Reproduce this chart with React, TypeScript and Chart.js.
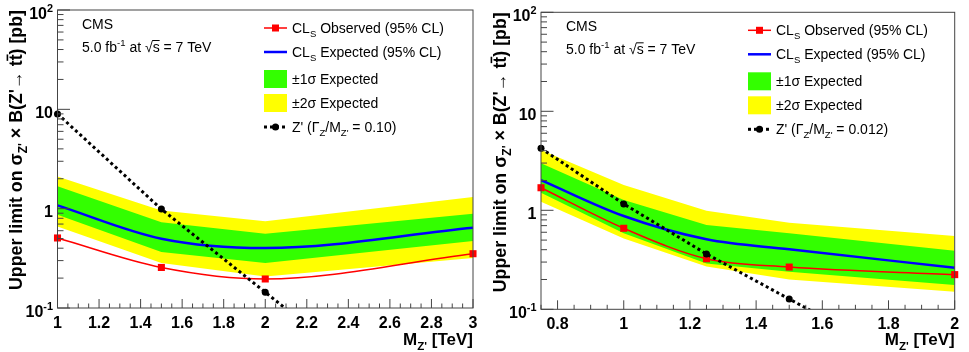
import React, { useEffect, useRef } from 'react';
import { Chart, registerables } from 'chart.js';

Chart.register(...registerables);

const FONT = '"Liberation Sans", Arial, Helvetica, sans-serif';

// ---------- Left panel: Z' (Γ/M = 0.10) ----------
const leftMass = [1, 1.5, 2, 3];
const leftObserved = [0.507, 0.256, 0.196, 0.352];
const leftExpected = [1.08, 0.499, 0.402, 0.644];
const left1SigUp = [1.68, 0.728, 0.56, 0.89];
const left1SigDown = [0.87, 0.366, 0.284, 0.473];
const left2SigUp = [2.11, 0.96, 0.745, 1.31];
const left2SigDown = [0.66, 0.284, 0.208, 0.319];
const leftZpMass = [1, 1.5, 2, 2.5];
const leftZpXsec = [9.0, 0.99, 0.144, 0.021];
const leftXTicks = [1, 1.2, 1.4, 1.6, 1.8, 2, 2.2, 2.4, 2.6, 2.8, 3];
const leftXTickLabels = ['1', '1.2', '1.4', '1.6', '1.8', '2', '2.2', '2.4', '2.6', '2.8', '3'];

// ---------- Right panel: Z' (Γ/M = 0.012) ----------
const rightMass = [0.75, 1, 1.25, 1.5, 2];
const rightObserved = [1.69, 0.658, 0.324, 0.267, 0.224];
const rightExpected = [2.02, 0.876, 0.51, 0.404, 0.263];
const right1SigUp = [2.98, 1.27, 0.71, 0.586, 0.39];
const right1SigDown = [1.5, 0.586, 0.29, 0.24, 0.176];
const right2SigUp = [4.06, 1.8, 0.99, 0.75, 0.55];
const right2SigDown = [1.22, 0.52, 0.27, 0.2, 0.15];
const rightZpMass = [0.75, 1, 1.25, 1.5, 1.75];
const rightZpXsec = [4.23, 1.16, 0.362, 0.127, 0.045];
const rightXTicks = [0.8, 1, 1.2, 1.4, 1.6, 1.8, 2];
const rightXTickLabels = ['0.8', '1', '1.2', '1.4', '1.6', '1.8', '2'];

// ---------- shared y axis ----------
const yTicks = [0.1, 1, 10, 100];
type Seg = { t: string; s?: 'sub' | 'sup'; bar?: boolean };
const yTickLabels: Seg[][] = [
  [{ t: '10' }, { t: '-1', s: 'sup' }],
  [{ t: '1' }],
  [{ t: '10' }],
  [{ t: '10' }, { t: '2', s: 'sup' }],
];

const yTitle: Seg[] = [
  { t: 'Upper limit on ' },
  { t: 'σ' },
  { t: "Z'", s: 'sub' },
  { t: " × B(Z'→ t" },
  { t: 't', bar: true },
  { t: ') [pb]' },
];
const xTitle: Seg[] = [{ t: 'M' }, { t: "Z'", s: 'sub' }, { t: ' [TeV]' }];
const cmsLine1: Seg[] = [{ t: 'CMS' }];
const cmsLine2: Seg[] = [
  { t: '5.0 fb' },
  { t: '-1', s: 'sup' },
  { t: ' at ' },
  { t: '√' },
  { t: 's', bar: true },
  { t: ' = 7 TeV' },
];
const legObserved: Seg[] = [{ t: 'CL' }, { t: 'S', s: 'sub' }, { t: ' Observed (95% CL)' }];
const legExpected: Seg[] = [{ t: 'CL' }, { t: 'S', s: 'sub' }, { t: ' Expected (95% CL)' }];
const leg1Sig: Seg[] = [{ t: '±1σ Expected' }];
const leg2Sig: Seg[] = [{ t: '±2σ Expected' }];
const legZpLeft: Seg[] = [{ t: "Z' (Γ" }, { t: 'Z', s: 'sub' }, { t: '/M' }, { t: "Z'", s: 'sub' }, { t: ' = 0.10)' }];
const legZpRight: Seg[] = [{ t: "Z' (Γ" }, { t: 'Z', s: 'sub' }, { t: '/M' }, { t: "Z'", s: 'sub' }, { t: ' = 0.012)' }];

const RED = '#ff0000';
const BLUE = '#0000ff';
const GREEN = '#33ff00';
const YELLOW = '#ffff00';

interface Panel {
  mass: number[];
  obs: number[];
  exp: number[];
  s1u: number[];
  s1d: number[];
  s2u: number[];
  s2d: number[];
  zpMass: number[];
  zpXsec: number[];
  xMin: number;
  xMax: number;
  xTicks: number[];
  xTickLabels: string[];
  zpLegend: Seg[];
  padding: { left: number; right: number; top: number; bottom: number };
  yLabelGap: number;
}

function segFont(seg: Seg, size: number, weight: string) {
  const sz = seg.s ? size * 0.68 : size;
  return `${weight} ${sz}px ${FONT}`;
}

function drawRich(
  ctx: CanvasRenderingContext2D,
  segs: Seg[],
  x: number,
  y: number,
  size: number,
  weight: string,
  align: 'left' | 'right' | 'center',
  color = '#000'
) {
  let w = 0;
  const widths: number[] = [];
  for (const s of segs) {
    ctx.font = segFont(s, size, weight);
    const mw = ctx.measureText(s.t).width;
    widths.push(mw);
    w += mw;
  }
  let cx = align === 'left' ? x : align === 'right' ? x - w : x - w / 2;
  ctx.fillStyle = color;
  ctx.strokeStyle = color;
  ctx.textAlign = 'left';
  ctx.textBaseline = 'alphabetic';
  segs.forEach((s, i) => {
    ctx.font = segFont(s, size, weight);
    const dy = s.s === 'sub' ? size * 0.28 : s.s === 'sup' ? -size * 0.42 : 0;
    ctx.fillText(s.t, cx, y + dy);
    if (s.bar) {
      ctx.save();
      ctx.lineWidth = weight === 'bold' ? 1.6 : 1;
      ctx.setLineDash([]);
      ctx.beginPath();
      ctx.moveTo(cx - 0.5, y - size * 0.82);
      ctx.lineTo(cx + widths[i], y - size * 0.82);
      ctx.stroke();
      ctx.restore();
    }
    cx += widths[i];
  });
}

function overlayPlugin(p: Panel) {
  return {
    id: 'rootOverlay',
    afterDraw(chart: any) {
      const ctx: CanvasRenderingContext2D = chart.ctx;
      const a = chart.chartArea;
      const xs = chart.scales.x;
      const ys = chart.scales.y;
      ctx.save();
      ctx.setLineDash([]);
      // frame
      ctx.strokeStyle = '#444';
      ctx.lineWidth = 1;
      ctx.strokeRect(a.left, a.top, a.right - a.left, a.bottom - a.top);

      // x ticks (inward)
      ctx.beginPath();
      const i0 = Math.ceil(p.xMin / 0.05 - 1e-6);
      const i1 = Math.floor(p.xMax / 0.05 + 1e-6);
      for (let i = i0; i <= i1; i++) {
        const v = i * 0.05;
        const major = p.xTicks.some((t) => Math.abs(t - v) < 1e-6);
        const px = xs.getPixelForValue(v);
        ctx.moveTo(px, a.bottom);
        ctx.lineTo(px, a.bottom - (major ? 9 : 4.5));
      }
      // y ticks (inward)
      for (const d of [0.1, 1, 10]) {
        for (let k = 1; k <= 9; k++) {
          const v = d * k;
          const py = ys.getPixelForValue(v);
          ctx.moveTo(a.left, py);
          ctx.lineTo(a.left + (k === 1 ? 12.5 : 6), py);
        }
      }
      const pTop = ys.getPixelForValue(100);
      ctx.moveTo(a.left, pTop);
      ctx.lineTo(a.left + 12.5, pTop);
      ctx.stroke();

      // x tick labels
      p.xTicks.forEach((v, i) => {
        drawRich(ctx, [{ t: p.xTickLabels[i] }], xs.getPixelForValue(v), a.bottom + 20, 16, 'bold', 'center');
      });
      // y tick labels
      yTicks.forEach((v, i) => {
        drawRich(ctx, yTickLabels[i], a.left - p.yLabelGap, ys.getPixelForValue(v) + 8.5, 16, 'bold', 'right');
      });

      // x title
      drawRich(ctx, xTitle, a.right, 345, 17, 'bold', 'right');

      // y title (rotated, right-aligned to top of axis)
      ctx.save();
      ctx.translate(22, a.top);
      ctx.rotate(-Math.PI / 2);
      drawRich(ctx, yTitle, 0, 0, 17.8, 'bold', 'right');
      ctx.restore();

      // CMS label
      drawRich(ctx, cmsLine1, 82, a.top + 19, 14, 'normal', 'left');
      drawRich(ctx, cmsLine2, 82, a.top + 42, 14, 'normal', 'left');

      // legend
      const lx0 = 264;
      const lx1 = 287;
      const lt = 292;
      const rows = [18, 42, 69, 93, 117].map((r) => a.top + r);
      // observed
      ctx.strokeStyle = RED;
      ctx.lineWidth = 1.5;
      ctx.beginPath();
      ctx.moveTo(lx0, rows[0]);
      ctx.lineTo(lx1, rows[0]);
      ctx.stroke();
      ctx.fillStyle = RED;
      ctx.fillRect((lx0 + lx1) / 2 - 3.5, rows[0] - 3.5, 7, 7);
      drawRich(ctx, legObserved, lt, rows[0] + 5, 14, 'normal', 'left');
      // expected
      ctx.strokeStyle = BLUE;
      ctx.lineWidth = 2.5;
      ctx.beginPath();
      ctx.moveTo(lx0, rows[1]);
      ctx.lineTo(lx1, rows[1]);
      ctx.stroke();
      drawRich(ctx, legExpected, lt, rows[1] + 5, 14, 'normal', 'left');
      // 1 sigma
      ctx.fillStyle = GREEN;
      ctx.fillRect(lx0, rows[2] - 9, lx1 - lx0, 18);
      drawRich(ctx, leg1Sig, lt, rows[2] + 5, 14, 'normal', 'left');
      // 2 sigma
      ctx.fillStyle = YELLOW;
      ctx.fillRect(lx0, rows[3] - 9, lx1 - lx0, 18);
      drawRich(ctx, leg2Sig, lt, rows[3] + 5, 14, 'normal', 'left');
      // Z'
      ctx.strokeStyle = '#000';
      ctx.lineWidth = 3;
      ctx.setLineDash([3, 3]);
      ctx.beginPath();
      ctx.moveTo(lx0, rows[4]);
      ctx.lineTo(lx1, rows[4]);
      ctx.stroke();
      ctx.setLineDash([]);
      ctx.fillStyle = '#000';
      ctx.beginPath();
      ctx.arc((lx0 + lx1) / 2, rows[4], 3.5, 0, Math.PI * 2);
      ctx.fill();
      drawRich(ctx, p.zpLegend, lt, rows[4] + 5, 14, 'normal', 'left');

      ctx.restore();
    },
  };
}

function pts(xs: number[], ys: number[]) {
  return xs.map((x, i) => ({ x, y: ys[i] }));
}

function makeConfig(p: Panel): any {
  return {
    type: 'line',
    data: {
      datasets: [
        {
          label: "Z'",
          data: pts(p.zpMass, p.zpXsec),
          borderColor: '#000',
          borderWidth: 3,
          borderDash: [3, 3],
          pointRadius: 3.5,
          pointBackgroundColor: '#000',
          pointBorderColor: '#000',
          pointBorderWidth: 0,
          tension: 0,
          fill: false,
          clip: { left: 8, right: 8, top: 8, bottom: 0 },
        },
        {
          label: 'Observed',
          data: pts(p.mass, p.obs),
          borderColor: RED,
          borderWidth: 1.5,
          pointStyle: 'rect',
          pointRadius: 5,
          pointBackgroundColor: RED,
          pointBorderColor: RED,
          pointBorderWidth: 0,
          cubicInterpolationMode: 'monotone',
          fill: false,
          clip: false,
        },
        {
          label: 'Expected',
          data: pts(p.mass, p.exp),
          borderColor: BLUE,
          borderWidth: 2.5,
          pointRadius: 0,
          cubicInterpolationMode: 'monotone',
          fill: false,
        },
        {
          label: '1s up',
          data: pts(p.mass, p.s1u),
          borderColor: 'rgba(0,0,0,0)',
          borderWidth: 0,
          pointRadius: 0,
          backgroundColor: GREEN,
          tension: 0,
          fill: '+1',
        },
        {
          label: '1s down',
          data: pts(p.mass, p.s1d),
          borderColor: 'rgba(0,0,0,0)',
          borderWidth: 0,
          pointRadius: 0,
          tension: 0,
          fill: false,
        },
        {
          label: '2s up',
          data: pts(p.mass, p.s2u),
          borderColor: 'rgba(0,0,0,0)',
          borderWidth: 0,
          pointRadius: 0,
          backgroundColor: YELLOW,
          tension: 0,
          fill: '+1',
        },
        {
          label: '2s down',
          data: pts(p.mass, p.s2d),
          borderColor: 'rgba(0,0,0,0)',
          borderWidth: 0,
          pointRadius: 0,
          tension: 0,
          fill: false,
        },
      ],
    },
    options: {
      animation: false,
      responsive: false,
      devicePixelRatio: 1,
      events: [],
      layout: { padding: p.padding },
      plugins: {
        legend: { display: false },
        tooltip: { enabled: false },
        title: { display: false },
      },
      scales: {
        x: { type: 'linear', min: p.xMin, max: p.xMax, display: false },
        y: { type: 'logarithmic', min: 0.1, max: 100, display: false },
      },
    },
    plugins: [overlayPlugin(p)],
  };
}

const leftPanel: Panel = {
  mass: leftMass,
  obs: leftObserved,
  exp: leftExpected,
  s1u: left1SigUp,
  s1d: left1SigDown,
  s2u: left2SigUp,
  s2d: left2SigDown,
  zpMass: leftZpMass,
  zpXsec: leftZpXsec,
  xMin: 1,
  xMax: 3,
  xTicks: leftXTicks,
  xTickLabels: leftXTickLabels,
  zpLegend: legZpLeft,
  padding: { left: 57.5, right: 12, top: 10, bottom: 44 },
  yLabelGap: 4.5,
};

const rightPanel: Panel = {
  mass: rightMass,
  obs: rightObserved,
  exp: rightExpected,
  s1u: right1SigUp,
  s1d: right1SigDown,
  s2u: right2SigUp,
  s2d: right2SigDown,
  zpMass: rightZpMass,
  zpXsec: rightZpXsec,
  xMin: 0.75,
  xMax: 2,
  xTicks: rightXTicks,
  xTickLabels: rightXTickLabels,
  zpLegend: legZpRight,
  padding: { left: 57, right: 14.3, top: 12.3, bottom: 42.7 },
  yLabelGap: 4.5,
};

function PanelChart({ panel }: { panel: Panel }) {
  const ref = useRef<HTMLCanvasElement | null>(null);
  useEffect(() => {
    if (!ref.current) return;
    const chart = new Chart(ref.current, makeConfig(panel));
    return () => chart.destroy();
  }, [panel]);
  return <canvas ref={ref} width={485} height={352} style={{ display: 'block', width: 485, height: 352 }} />;
}

export default function App() {
  return (
    <div style={{ position: 'absolute', left: 0, top: 0, width: 969, height: 352, background: '#fff' }}>
      <div style={{ position: 'absolute', left: 0, top: 0 }}>
        <PanelChart panel={leftPanel} />
      </div>
      <div style={{ position: 'absolute', left: 484, top: 0 }}>
        <PanelChart panel={rightPanel} />
      </div>
    </div>
  );
}
